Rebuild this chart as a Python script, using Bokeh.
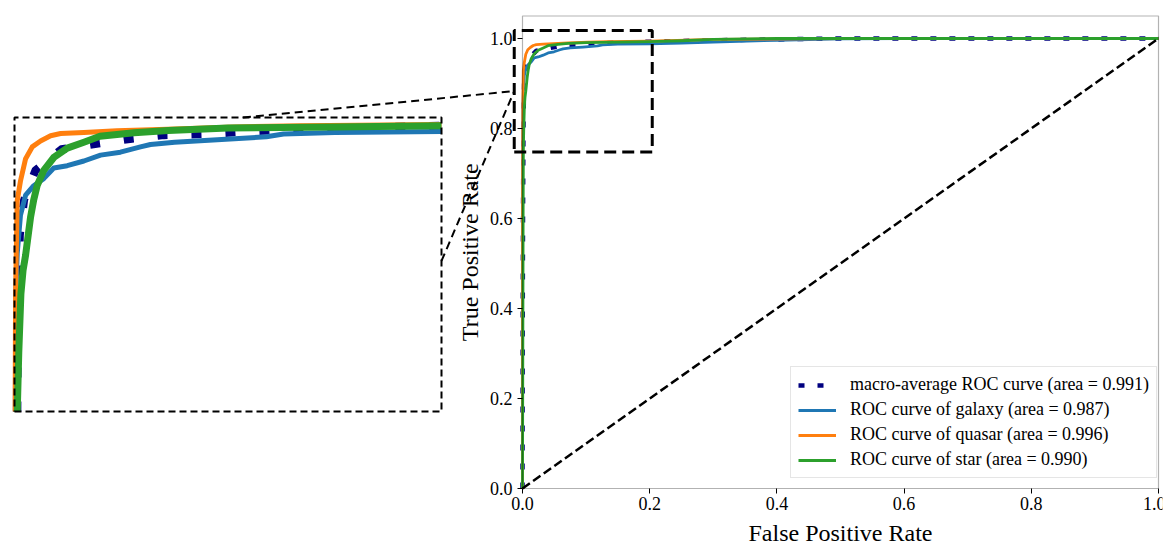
import numpy as np
from bokeh.plotting import figure
from bokeh.models import Range1d, FixedTicker, PrintfTickFormatter, Label, BoxAnnotation
from bokeh.embed import file_html
from bokeh.resources import INLINE

# ---------------- data ----------------
fpr_macro = [0.0, 0.0003, 0.0008, 0.0015, 0.0025, 0.0045, 0.0098, 0.022, 0.04, 0.055, 0.07, 0.09,
             0.12, 0.15, 0.2, 0.3, 0.4, 0.5, 1.0]
tpr_macro = [0.0, 0.35, 0.6, 0.8, 0.9, 0.93, 0.955, 0.973, 0.978, 0.982, 0.985, 0.986,
             0.989, 0.991, 0.993, 0.996, 0.998, 1.0, 1.0]

fpr_galaxy = [0.0, 0.0, 0.0002, 0.0004, 0.0006, 0.0013, 0.0028, 0.0052, 0.009, 0.0137, 0.0184, 0.0247,
              0.0325, 0.0403, 0.0496, 0.059, 0.0637, 0.075, 0.095, 0.118, 0.126, 0.15, 0.2, 0.25,
              0.3, 0.4, 0.5, 0.6, 1.0]
tpr_galaxy = [0.0, 0.33, 0.6, 0.75, 0.85, 0.885, 0.917, 0.934, 0.942, 0.948, 0.957, 0.959,
              0.963, 0.968, 0.9705, 0.975, 0.977, 0.979, 0.981, 0.9836, 0.986, 0.9873, 0.988, 0.990,
              0.992, 0.996, 0.999, 1.0, 1.0]

fpr_quasar = [0.0, 0.0, 0.0005, 0.00125, 0.0028, 0.0052, 0.0083, 0.0122, 0.0169, 0.0216, 0.0325,
              0.048, 0.0716, 0.103, 0.134, 0.2, 0.3, 0.5, 1.0]
tpr_quasar = [0.0, 0.6, 0.85, 0.929, 0.946, 0.965, 0.975, 0.980, 0.9845, 0.9864, 0.9873,
              0.9887, 0.990, 0.992, 0.993, 0.994, 0.998, 1.0, 1.0]

fpr_star = [0.0, 0.0005, 0.001, 0.0013, 0.002, 0.003, 0.004, 0.0052, 0.0075, 0.009, 0.0106, 0.0137,
            0.0184, 0.0247, 0.0325, 0.040, 0.056, 0.072, 0.10, 0.15, 0.2, 0.25, 0.3, 0.4, 1.0]
tpr_star = [0.0, 0.3, 0.6, 0.75, 0.80, 0.85, 0.87, 0.883, 0.915, 0.93, 0.942, 0.955,
            0.966, 0.974, 0.979, 0.984, 0.987, 0.989, 0.991, 0.992, 0.993, 0.995, 0.998, 1.0, 1.0]

diag_x = [0.0, 1.0]
diag_y = [0.0, 1.0]

labels = ["macro-average ROC curve (area = 0.991)",
          "ROC curve of galaxy (area = 0.987)",
          "ROC curve of quasar (area = 0.996)",
          "ROC curve of star (area = 0.990)"]

ticks = [0.0, 0.2, 0.4, 0.6, 0.8, 1.0]

# zoom window (main-axes data) and inset view limits
zoom_x = (-0.013, 0.204)
zoom_y = (0.748, 1.018)
inset_x = (0.0, 0.2)
inset_y = (0.75, 1.0)

# ---------------- layout (canvas px) ----------------
W, H = 1165, 550
X0_PX, X1_PX = 522, 1158      # px of x=0 and x=1
Y0_PX, PX_PER_Y = 488, 450    # px of y=0, px per unit
FR_L, FR_R, FR_T, FR_B = 0, 1162, 11, 548   # frame in canvas px
ppx = X1_PX - X0_PX
Y_TOP = 1.05

# inset placement in px
IN_L, IN_R, IN_T, IN_B = 14, 441, 117, 411


def px_to_x(px):
    return (px - X0_PX) / ppx


def px_to_y(py):
    return (Y0_PX - py) / PX_PER_Y


tx = (px_to_x(IN_L), px_to_x(IN_R))
ty = (px_to_y(IN_B), px_to_y(IN_T))


def inset_to_main(x, y):
    mx = tx[0] + (x - inset_x[0]) / (inset_x[1] - inset_x[0]) * (tx[1] - tx[0])
    my = ty[0] + (y - inset_y[0]) / (inset_y[1] - inset_y[0]) * (ty[1] - ty[0])
    return mx, my


def clip_polyline(xs, ys, xmin, xmax, ymin, ymax):
    ox, oy = [], []
    for i in range(len(xs) - 1):
        x0, y0, x1, y1 = xs[i], ys[i], xs[i + 1], ys[i + 1]
        dx, dy = x1 - x0, y1 - y0
        t0, t1 = 0.0, 1.0
        ok = True
        for pp, qq in ((-dx, x0 - xmin), (dx, xmax - x0), (-dy, y0 - ymin), (dy, ymax - y0)):
            if pp == 0:
                if qq < 0:
                    ok = False
                    break
            else:
                r = qq / pp
                if pp < 0:
                    if r > t1:
                        ok = False
                        break
                    t0 = max(t0, r)
                else:
                    if r < t0:
                        ok = False
                        break
                    t1 = min(t1, r)
        if not ok:
            continue
        ax, ay = x0 + t0 * dx, y0 + t0 * dy
        bx, by = x0 + t1 * dx, y0 + t1 * dy
        if not ox or (ox[-1], oy[-1]) != (ax, ay):
            ox.append(ax)
            oy.append(ay)
        ox.append(bx)
        oy.append(by)
    return ox, oy


p = figure(width=W, height=H,
           x_range=Range1d(px_to_x(FR_L), px_to_x(FR_R)),
           y_range=Range1d(px_to_y(FR_B), px_to_y(FR_T)),
           output_backend="svg", toolbar_location=None,
           min_border_left=FR_L, min_border_right=W - FR_R,
           min_border_top=FR_T, min_border_bottom=H - FR_B)
p.outline_line_color = None
p.xgrid.visible = False
p.ygrid.visible = False
p.background_fill_color = "white"
p.border_fill_color = "white"

SERIF = "Liberation Serif"
for ax in (p.xaxis, p.yaxis):
    ax.ticker = FixedTicker(ticks=ticks)
    ax.formatter = PrintfTickFormatter(format="%.1f")
    ax.axis_line_color = None
    ax.major_tick_in = 0
    ax.major_tick_out = 5
    ax.major_tick_line_color = "black"
    ax.major_tick_line_width = 1
    ax.minor_tick_line_color = None
    ax.major_label_text_font = SERIF
    ax.major_label_text_font_size = "18px"
    ax.major_label_text_color = "black"
    ax.fixed_location = 0
p.xaxis.major_label_standoff = 3
p.yaxis.major_label_standoff = 5

NAVY, BLUE, ORANGE, GREEN = "#000080", "#1f77b4", "#ff7f0e", "#2ca02c"

# main curves
p.line(fpr_macro, tpr_macro, color=NAVY, line_width=4.5, line_dash="6 13", legend_label=labels[0])
p.line(fpr_galaxy, tpr_galaxy, color=BLUE, line_width=2.8, line_join="round", legend_label=labels[1])
p.line(fpr_quasar, tpr_quasar, color=ORANGE, line_width=2.8, line_join="round", legend_label=labels[2])
p.line(fpr_star, tpr_star, color=GREEN, line_width=2.8, line_join="round", legend_label=labels[3])
p.line(diag_x, diag_y, color="black", line_width=2.5, line_dash="9 4")

# zoom rectangle
p.line([zoom_x[0], zoom_x[1], zoom_x[1], zoom_x[0], zoom_x[0]],
       [zoom_y[0], zoom_y[0], zoom_y[1], zoom_y[1], zoom_y[0]],
       color="black", line_width=3, line_dash="12 6")

# frame box of the main axes
p.add_layout(BoxAnnotation(left=0, right=1, bottom=0, top=Y_TOP, fill_color=None,
                           line_color="black", line_width=1.2))

# inset
inset = p.subplot(x_source=Range1d(*inset_x), y_source=Range1d(*inset_y),
                  x_target=Range1d(*tx), y_target=Range1d(*ty))
for xs, ys, col, lw, dash in ((fpr_macro, tpr_macro, NAVY, 8, "10 24"),
                              (fpr_galaxy, tpr_galaxy, BLUE, 5, "solid"),
                              (fpr_quasar, tpr_quasar, ORANGE, 5, "solid"),
                              (fpr_star, tpr_star, GREEN, 7, "solid")):
    cx, cy = clip_polyline(xs, ys, inset_x[0], inset_x[1], inset_y[0], inset_y[1])
    inset.line(cx, cy, color=col, line_width=lw, line_dash=dash, line_join="round")
inset.line([inset_x[0], inset_x[1], inset_x[1], inset_x[0], inset_x[0]],
           [inset_y[0], inset_y[0], inset_y[1], inset_y[1], inset_y[0]],
           color="black", line_width=2, line_dash="7 4")

# connector lines
target = (zoom_x[0], (zoom_y[0] + zoom_y[1]) / 2)
u = inset_to_main(0.107, inset_y[1])
l = inset_to_main(inset_x[1], 0.878)
p.line([u[0], target[0]], [u[1], target[1]], color="black", line_width=2, line_dash="8 5")
p.line([l[0], target[0]], [l[1], target[1]], color="black", line_width=2, line_dash="8 5")

# axis labels
p.add_layout(Label(x=0.5, y=px_to_y(532.5), text="False Positive Rate", text_align="center",
                   text_baseline="middle", text_font=SERIF, text_font_size="24px", text_color="black"))
p.add_layout(Label(x=px_to_x(469), y=0.525, text="True Positive Rate", angle=np.pi / 2,
                   text_align="center", text_baseline="middle", text_font=SERIF,
                   text_font_size="24px", text_color="black"))

# legend
lg = p.legend[0]
lg.location = (790 - FR_L, FR_B - 478)
lg.padding = 7
lg.spacing = 4
lg.glyph_width = 38
lg.glyph_height = 20
lg.label_height = 20
lg.label_standoff = 14
lg.label_text_font = SERIF
lg.label_text_font_size = "18px"
lg.label_text_color = "black"
lg.border_line_color = "#cccccc"
lg.border_line_width = 1
lg.background_fill_alpha = 0.8

open("out.html", "w").write(file_html(p, INLINE))
